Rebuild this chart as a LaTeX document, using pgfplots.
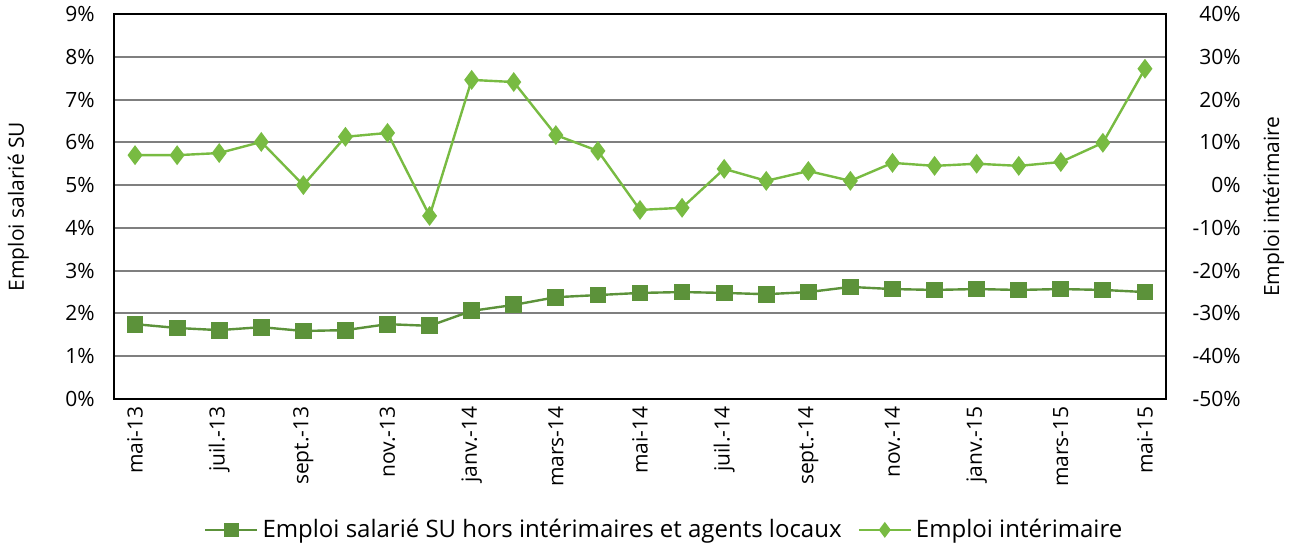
\documentclass[border=0pt]{standalone}
\usepackage{pgfplots}
\pgfplotsset{compat=1.18}
\usepackage{fontspec}
\setmainfont{Open Sans}
\definecolor{dkgreen}{HTML}{5C923A}
\definecolor{ltgreen}{HTML}{78BB42}
\definecolor{gridgray}{HTML}{7F7F7F}
\pgfplotstableread{
x emp
0 1.75
1 1.66
2 1.61
3 1.68
4 1.59
5 1.61
6 1.75
7 1.71
8 2.06
9 2.20
10 2.38
11 2.43
12 2.48
13 2.50
14 2.48
15 2.45
16 2.50
17 2.62
18 2.57
19 2.55
20 2.57
21 2.55
22 2.57
23 2.55
24 2.50
}\empsal
\pgfplotstableread{
x int
0 7.0
1 7.0
2 7.5
3 10.1
4 0.0
5 11.3
6 12.2
7 -7.2
8 24.6
9 24.1
10 11.7
11 8.0
12 -5.8
13 -5.3
14 3.8
15 1.0
16 3.3
17 1.0
18 5.2
19 4.5
20 5.0
21 4.5
22 5.4
23 9.9
24 27.2
}\empint
\begin{document}
\fontsize{10.5bp}{12.6bp}\selectfont
\begin{tikzpicture}
\path[use as bounding box] (-57bp,-74.5bp) rectangle (589.5bp,199.5bp);
\pgfplotsset{
  every axis/.style={
    scale only axis, width=526bp, height=192.5bp,
    xmin=-0.5, xmax=24.5,
    major tick length=0pt,
    /pgf/number format/assume math mode=true,
    font=\fontsize{10.5bp}{12.6bp}\selectfont,
  }
}
\begin{axis}[
  at={(0,0)}, anchor=south west,
  ymin=0, ymax=9,
  ytick={0,1,...,9},
  yticklabels={0\%,1\%,2\%,3\%,4\%,5\%,6\%,7\%,8\%,9\%},
  yticklabel style={xshift=-6bp},
  ymajorgrids,
  grid style={gridgray, line width=1bp},
  axis line style={black, line width=1.2bp},
  xtick={0,2,...,24},
  xticklabels={mai-13,juil.-13,sept.-13,nov.-13,janv.-14,mars-14,mai-14,juil.-14,sept.-14,nov.-14,janv.-15,mars-15,mai-15},
  xticklabel style={rotate=90, anchor=east},
  ylabel={Emploi salarié SU},
  ylabel style={yshift=11bp},
]
\addplot[dkgreen, line width=1.2bp, mark=square*, mark size=3.6bp, mark options={solid, fill=dkgreen, draw=dkgreen}] table[x=x, y=emp] {\empsal};
\end{axis}
\begin{axis}[
  at={(0,0)}, anchor=south west,
  ymin=-50, ymax=40,
  ytick={-50,-40,...,40},
  yticklabels={-50\%,-40\%,-30\%,-20\%,-10\%,0\%,10\%,20\%,30\%,40\%},
  axis y line*=right,
  axis x line=none,
  axis line style={black, line width=1.2bp},
  yticklabel style={anchor=east, xshift=41bp},
  ylabel={Emploi intérimaire},
  ylabel style={yshift=-4bp},
  legend columns=2,
  legend style={at={(0.524,-0.34)}, anchor=center, draw=none, fill=none,
    /tikz/every even column/.append style={column sep=6bp},
    font=\fontsize{12bp}{14bp}\selectfont},
  legend cell align=left,
  legend image code/.code={\draw[mark repeat=2, mark phase=2] plot coordinates {(0bp,0bp) (13bp,0bp) (26bp,0bp)};},
]
\addlegendimage{dkgreen, line width=1.2bp, mark=square*, mark size=3bp, mark options={solid, fill=dkgreen}}
\addlegendentry{Emploi salarié SU hors intérimaires et agents locaux}
\addlegendimage{ltgreen, line width=1.2bp, mark=diamond*, mark size=3bp, mark options={solid, fill=ltgreen, draw=ltgreen}}
\addlegendentry{Emploi intérimaire}
\addplot[ltgreen, line width=1.2bp, mark=diamond*, mark size=4bp, mark options={solid, fill=ltgreen, draw=ltgreen}, forget plot] table[x=x, y=int] {\empint};
\end{axis}
\end{tikzpicture}
\end{document}
